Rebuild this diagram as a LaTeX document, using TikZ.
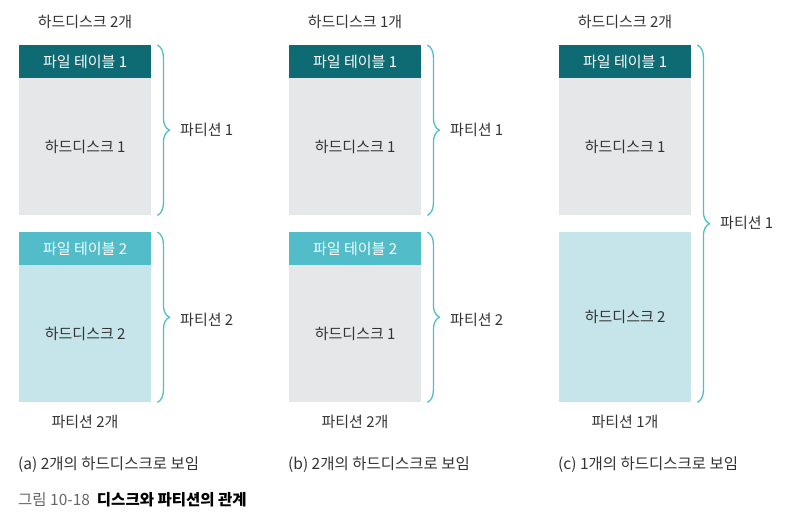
\documentclass[tikz,border=0pt]{standalone}
\usepackage{fontspec}
\setmainfont{Noto Sans CJK KR}
\usetikzlibrary{decorations.pathreplacing}
\definecolor{darkteal}{HTML}{0F6B73}
\definecolor{lightteal}{HTML}{52BDC9}
\definecolor{bodygray}{HTML}{E6E7E8}
\definecolor{bodyblue}{HTML}{C6E5EA}
\definecolor{txtgray}{HTML}{333333}
\begin{document}
\begin{tikzpicture}[
    x=1pt, y=-1pt,
    every node/.style={font=\fontsize{15}{18}\selectfont, text=txtgray, inner sep=0pt},
    hdr/.style={rectangle, anchor=north west, minimum width=132pt, minimum height=33pt, text=white},
    hdrdark/.style={hdr, fill=darkteal},
    hdrlight/.style={hdr, fill=lightteal},
    body/.style={rectangle, anchor=north west, minimum width=132pt},
    brc/.style={draw=lightteal, line width=1.3pt, decorate, decoration={brace, amplitude=12pt, aspect=0.5}},
    lbl/.style={anchor=west},
    captext/.style={anchor=west, font=\fontsize{15.5}{18}\selectfont}
]
\useasboundingbox (0,0) rectangle (790,520);

% (a) two disks
\node (atop) at (85,22) {하드디스크 2개};
\node[hdrdark] (ahdr1) at (19,45) {파일 테이블 1};
\node[body, fill=bodygray, minimum height=137pt] (abody1) at (19,78) {하드디스크 1};
\node[hdrlight] (ahdr2) at (19,232) {파일 테이블 2};
\node[body, fill=bodyblue, minimum height=137pt] (abody2) at (19,265) {하드디스크 2};
\node (abot) at (85,422) {파티션 2개};
\draw[brc] (ahdr1.north east) ++(6,0) coordinate (ab1s) -- (abody1.south east -| ab1s) coordinate (ab1e);
\draw[brc] (ahdr2.north east) ++(6,0) coordinate (ab2s) -- (abody2.south east -| ab2s) coordinate (ab2e);
\node[lbl] (apart1) at (180,130) {파티션 1};
\node[lbl] (apart2) at (180,320) {파티션 2};

% (b) one disk, two partitions
\node (btop) at (355,22) {하드디스크 1개};
\node[hdrdark] (bhdr1) at (289,45) {파일 테이블 1};
\node[body, fill=bodygray, minimum height=137pt] (bbody1) at (289,78) {하드디스크 1};
\node[hdrlight] (bhdr2) at (289,232) {파일 테이블 2};
\node[body, fill=bodygray, minimum height=137pt] (bbody2) at (289,265) {하드디스크 1};
\node (bbot) at (355,422) {파티션 2개};
\draw[brc] (bhdr1.north east) ++(6,0) coordinate (bb1s) -- (bbody1.south east -| bb1s) coordinate (bb1e);
\draw[brc] (bhdr2.north east) ++(6,0) coordinate (bb2s) -- (bbody2.south east -| bb2s) coordinate (bb2e);
\node[lbl] (bpart1) at (450,130) {파티션 1};
\node[lbl] (bpart2) at (450,320) {파티션 2};

% (c) two disks, one partition
\node (ctop) at (625,22) {하드디스크 2개};
\node[hdrdark] (chdr1) at (559,45) {파일 테이블 1};
\node[body, fill=bodygray, minimum height=137pt] (cbody1) at (559,78) {하드디스크 1};
\node[body, fill=bodyblue, minimum height=170pt] (cbody2) at (559,232) {하드디스크 2};
\node (cbot) at (625,422) {파티션 1개};
\draw[brc] (chdr1.north east) ++(6,0) coordinate (cbs) -- (cbody2.south east -| cbs) coordinate (cbe);
\node[lbl] (cpart1) at (720,223) {파티션 1};

% captions
\node[captext] (acap) at (18,465) {(a) 2개의 하드디스크로 보임};
\node[captext] (bcap) at (288,465) {(b) 2개의 하드디스크로 보임};
\node[captext] (ccap) at (558,465) {(c) 1개의 하드디스크로 보임};
\node[captext, text=black!60] (fig) at (18,500) {그림 10-18\hspace{7pt}\textcolor{black}{\bfseries 디스크와 파티션의 관계}};
\end{tikzpicture}
\end{document}
